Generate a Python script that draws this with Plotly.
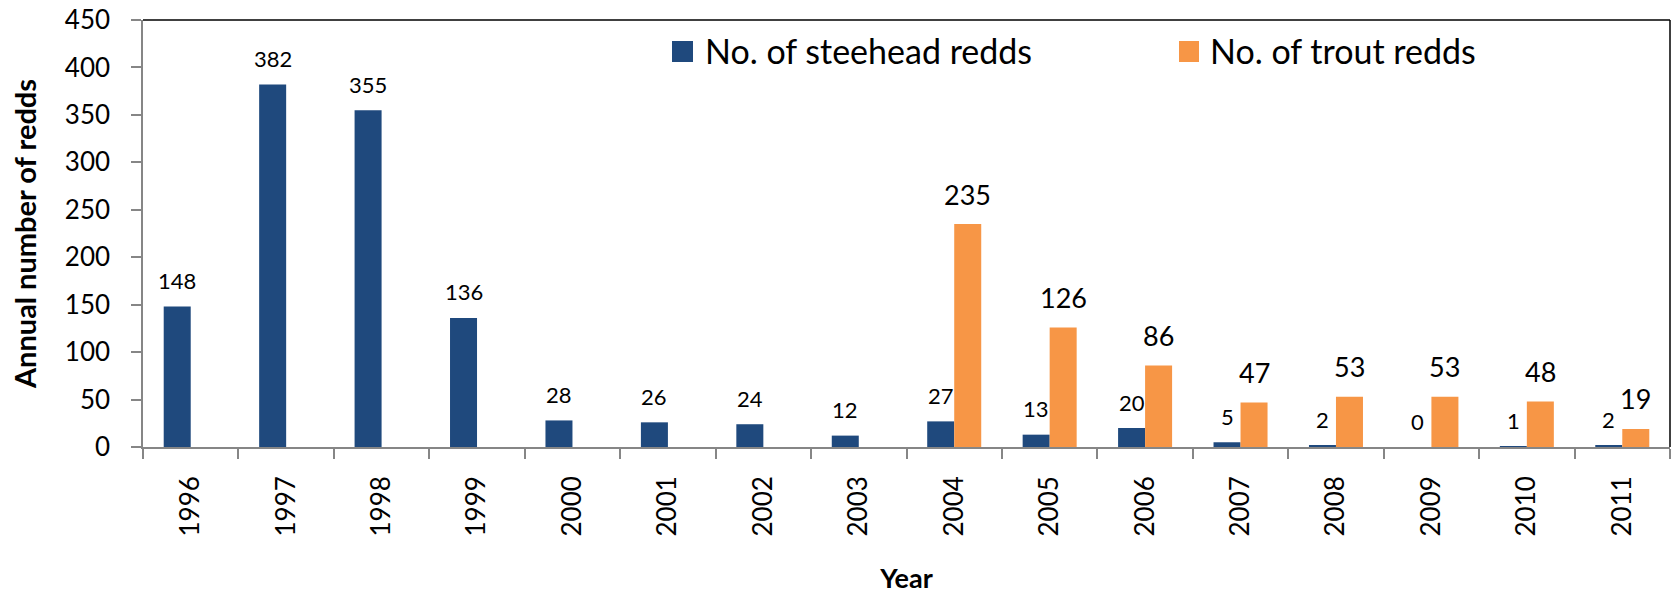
import plotly.graph_objects as go

# Annual redd counts per survey year
years = ["1996", "1997", "1998", "1999", "2000", "2001", "2002", "2003",
         "2004", "2005", "2006", "2007", "2008", "2009", "2010", "2011"]
steelhead_redds = [148, 382, 355, 136, 28, 26, 24, 12, 27, 13, 20, 5, 2, 0, 1, 2]
trout_redds = [None, None, None, None, None, None, None, None,
               235, 126, 86, 47, 53, 53, 48, 19]

steelhead_name = "No. of steehead redds"
trout_name = "No. of trout redds"

BLUE = "#1F497D"
ORANGE = "#F79646"
AXIS_GRAY = "#868686"
FONT = "Lato"

W, H = 1675, 594
M_L, M_R, M_T, M_B = 143, 5, 20, 147
plot_w = W - M_L - M_R
plot_h = H - M_T - M_B
BARGAP = 0.434
cat_px = plot_w / len(years)
bar_off = 0.25 * (1 - BARGAP) * cat_px  # pixel offset of each bar centre in its group

fig = go.Figure()
fig.add_trace(go.Bar(x=years, y=steelhead_redds, name=steelhead_name,
                     marker=dict(color=BLUE, line=dict(width=0)), showlegend=False))
fig.add_trace(go.Bar(x=years, y=trout_redds, name=trout_name,
                     marker=dict(color=ORANGE, line=dict(width=0)), showlegend=False))

# Value labels: category index on the x axis, shifted over each bar of the pair
annotations = []
for i, v in enumerate(steelhead_redds):
    annotations.append(dict(x=i, y=v, xref="x", yref="y", text=str(v), showarrow=False,
                            xshift=-bar_off, yshift=26, yanchor="middle",
                            font=dict(family=FONT, size=22, color="#000000")))
for i, v in enumerate(trout_redds):
    if v is None:
        continue
    annotations.append(dict(x=i, y=v, xref="x", yref="y", text=str(v), showarrow=False,
                            xshift=bar_off, yshift=30, yanchor="middle",
                            font=dict(family=FONT, size=27, color="#000000")))


def px_x(p):
    return (p - M_L) / plot_w


def px_y(p):
    return (H - M_B - p) / plot_h


# Legend drawn as swatches and labels above the bars
shapes = []
legend_items = [(672, 693, 703, BLUE, steelhead_name), (1179, 1199, 1208, ORANGE, trout_name)]
for x0, x1, tx, col, label in legend_items:
    shapes.append(dict(type="rect", xref="paper", yref="paper",
                       x0=px_x(x0), x1=px_x(x1), y0=px_y(62), y1=px_y(41),
                       fillcolor=col, line=dict(width=0)))
    annotations.append(dict(x=px_x(tx), y=px_y(51), xref="paper", yref="paper",
                            text=label, showarrow=False, xanchor="left", yanchor="middle",
                            font=dict(family=FONT, size=34, color="#000000")))

# Dark frame along the top and right of the plot area
shapes.append(dict(type="line", xref="paper", yref="paper", x0=0, x1=1, y0=1, y1=1,
                   line=dict(color="#000000", width=1.5)))
shapes.append(dict(type="line", xref="paper", yref="paper", x0=1, x1=1, y0=0, y1=1,
                   line=dict(color="#000000", width=1.5)))

fig.update_layout(
    width=W, height=H,
    margin=dict(l=M_L, r=M_R, t=M_T, b=M_B, autoexpand=False),
    paper_bgcolor="white", plot_bgcolor="white",
    barmode="group", bargap=BARGAP, bargroupgap=0,
    font=dict(family=FONT, color="#000000"),
    showlegend=False,
    annotations=annotations,
    shapes=shapes,
    xaxis=dict(
        type="category", categoryorder="array", categoryarray=years,
        range=[-0.5, len(years) - 0.5],
        showgrid=False, showline=True, linecolor=AXIS_GRAY, linewidth=1.5,
        ticks="outside", tickson="boundaries", ticklen=10, tickcolor=AXIS_GRAY, tickwidth=1.5,
        tickangle=-90, ticklabelstandoff=17, tickfont=dict(family=FONT, size=26),
        title=dict(text="<b>Year</b>", font=dict(family=FONT, size=27), standoff=36),
        automargin=False,
    ),
    yaxis=dict(
        range=[0, 450], dtick=50, showgrid=False, zeroline=False,
        showline=True, linecolor=AXIS_GRAY, linewidth=1.5,
        ticks="outside", ticklen=10, tickcolor=AXIS_GRAY, tickwidth=1.5,
        ticklabelstandoff=16, tickfont=dict(family=FONT, size=26),
        title=dict(text="<b>Annual number of redds</b>", font=dict(family=FONT, size=29), standoff=20),
        automargin=False,
    ),
)

fig.write_html("out.html")
